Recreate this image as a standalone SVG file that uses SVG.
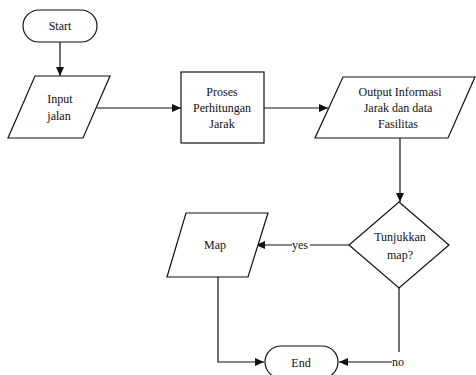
<svg xmlns="http://www.w3.org/2000/svg" width="476" height="375" viewBox="0 0 476 375">
<style>
.s{fill:#fff;stroke:#111;stroke-width:1.2}
.c{fill:none;stroke:#111;stroke-width:1.2}
text{font-family:'Liberation Serif','Times New Roman',serif;font-size:12px;fill:#111}
.t{text-anchor:middle}
</style>
<defs>
<marker id="a" markerWidth="9" markerHeight="8" refX="9" refY="4" orient="auto" markerUnits="userSpaceOnUse">
<path d="M0,0 L9,4 L0,8 Z" fill="#111"/>
</marker>
</defs>
<rect width="476" height="375" fill="#fff"/>
<g id="connectors">
<path class="c" d="M60,42 V76" marker-end="url(#a)"/>
<path class="c" d="M97,108 H181" marker-end="url(#a)"/>
<path class="c" d="M264,108 H328" marker-end="url(#a)"/>
<path class="c" d="M400,138 V202" marker-end="url(#a)"/>
<path class="c" d="M349,245 H310"/>
<path class="c" d="M292,245 H256" marker-end="url(#a)"/>
<path class="c" d="M218,277 V362 H264" marker-end="url(#a)"/>
<path class="c" d="M399,288 V352"/>
<path class="c" d="M392,362 H339" marker-end="url(#a)"/>
<text x="292" y="249">yes</text>
<text x="392" y="366">no</text>
</g>
<g id="start">
<rect class="s" x="23" y="10" width="74" height="32" rx="16"/>
<text class="t" x="60" y="30">Start</text>
</g>
<g id="input">
<path class="s" d="M35,76 H110 L83,138 H8 Z"/>
<text class="t" x="60" y="103">Input</text>
<text class="t" x="59" y="120">jalan</text>
</g>
<g id="proses">
<rect class="s" x="181" y="72" width="83" height="71"/>
<text class="t" x="222" y="96">Proses</text>
<text class="t" x="222" y="112">Perhitungan</text>
<text class="t" x="222" y="128">Jarak</text>
</g>
<g id="output">
<path class="s" d="M343,77 H475 L448,138 H315 Z"/>
<text class="t" x="400" y="96">Output Informasi</text>
<text class="t" x="398" y="112">Jarak dan data</text>
<text class="t" x="398" y="128">Fasilitas</text>
</g>
<g id="decision">
<path class="s" d="M399,202 L449,245 L399,288 L349,245 Z"/>
<text class="t" x="400" y="241">Tunjukkan</text>
<text class="t" x="400" y="259">map?</text>
</g>
<g id="map">
<path class="s" d="M186,213 H268 L248,277 H167 Z"/>
<text class="t" x="215" y="249">Map</text>
</g>
<g id="end">
<rect class="s" x="265" y="346" width="73" height="32" rx="16"/>
<text class="t" x="301" y="367">End</text>
</g>
</svg>
